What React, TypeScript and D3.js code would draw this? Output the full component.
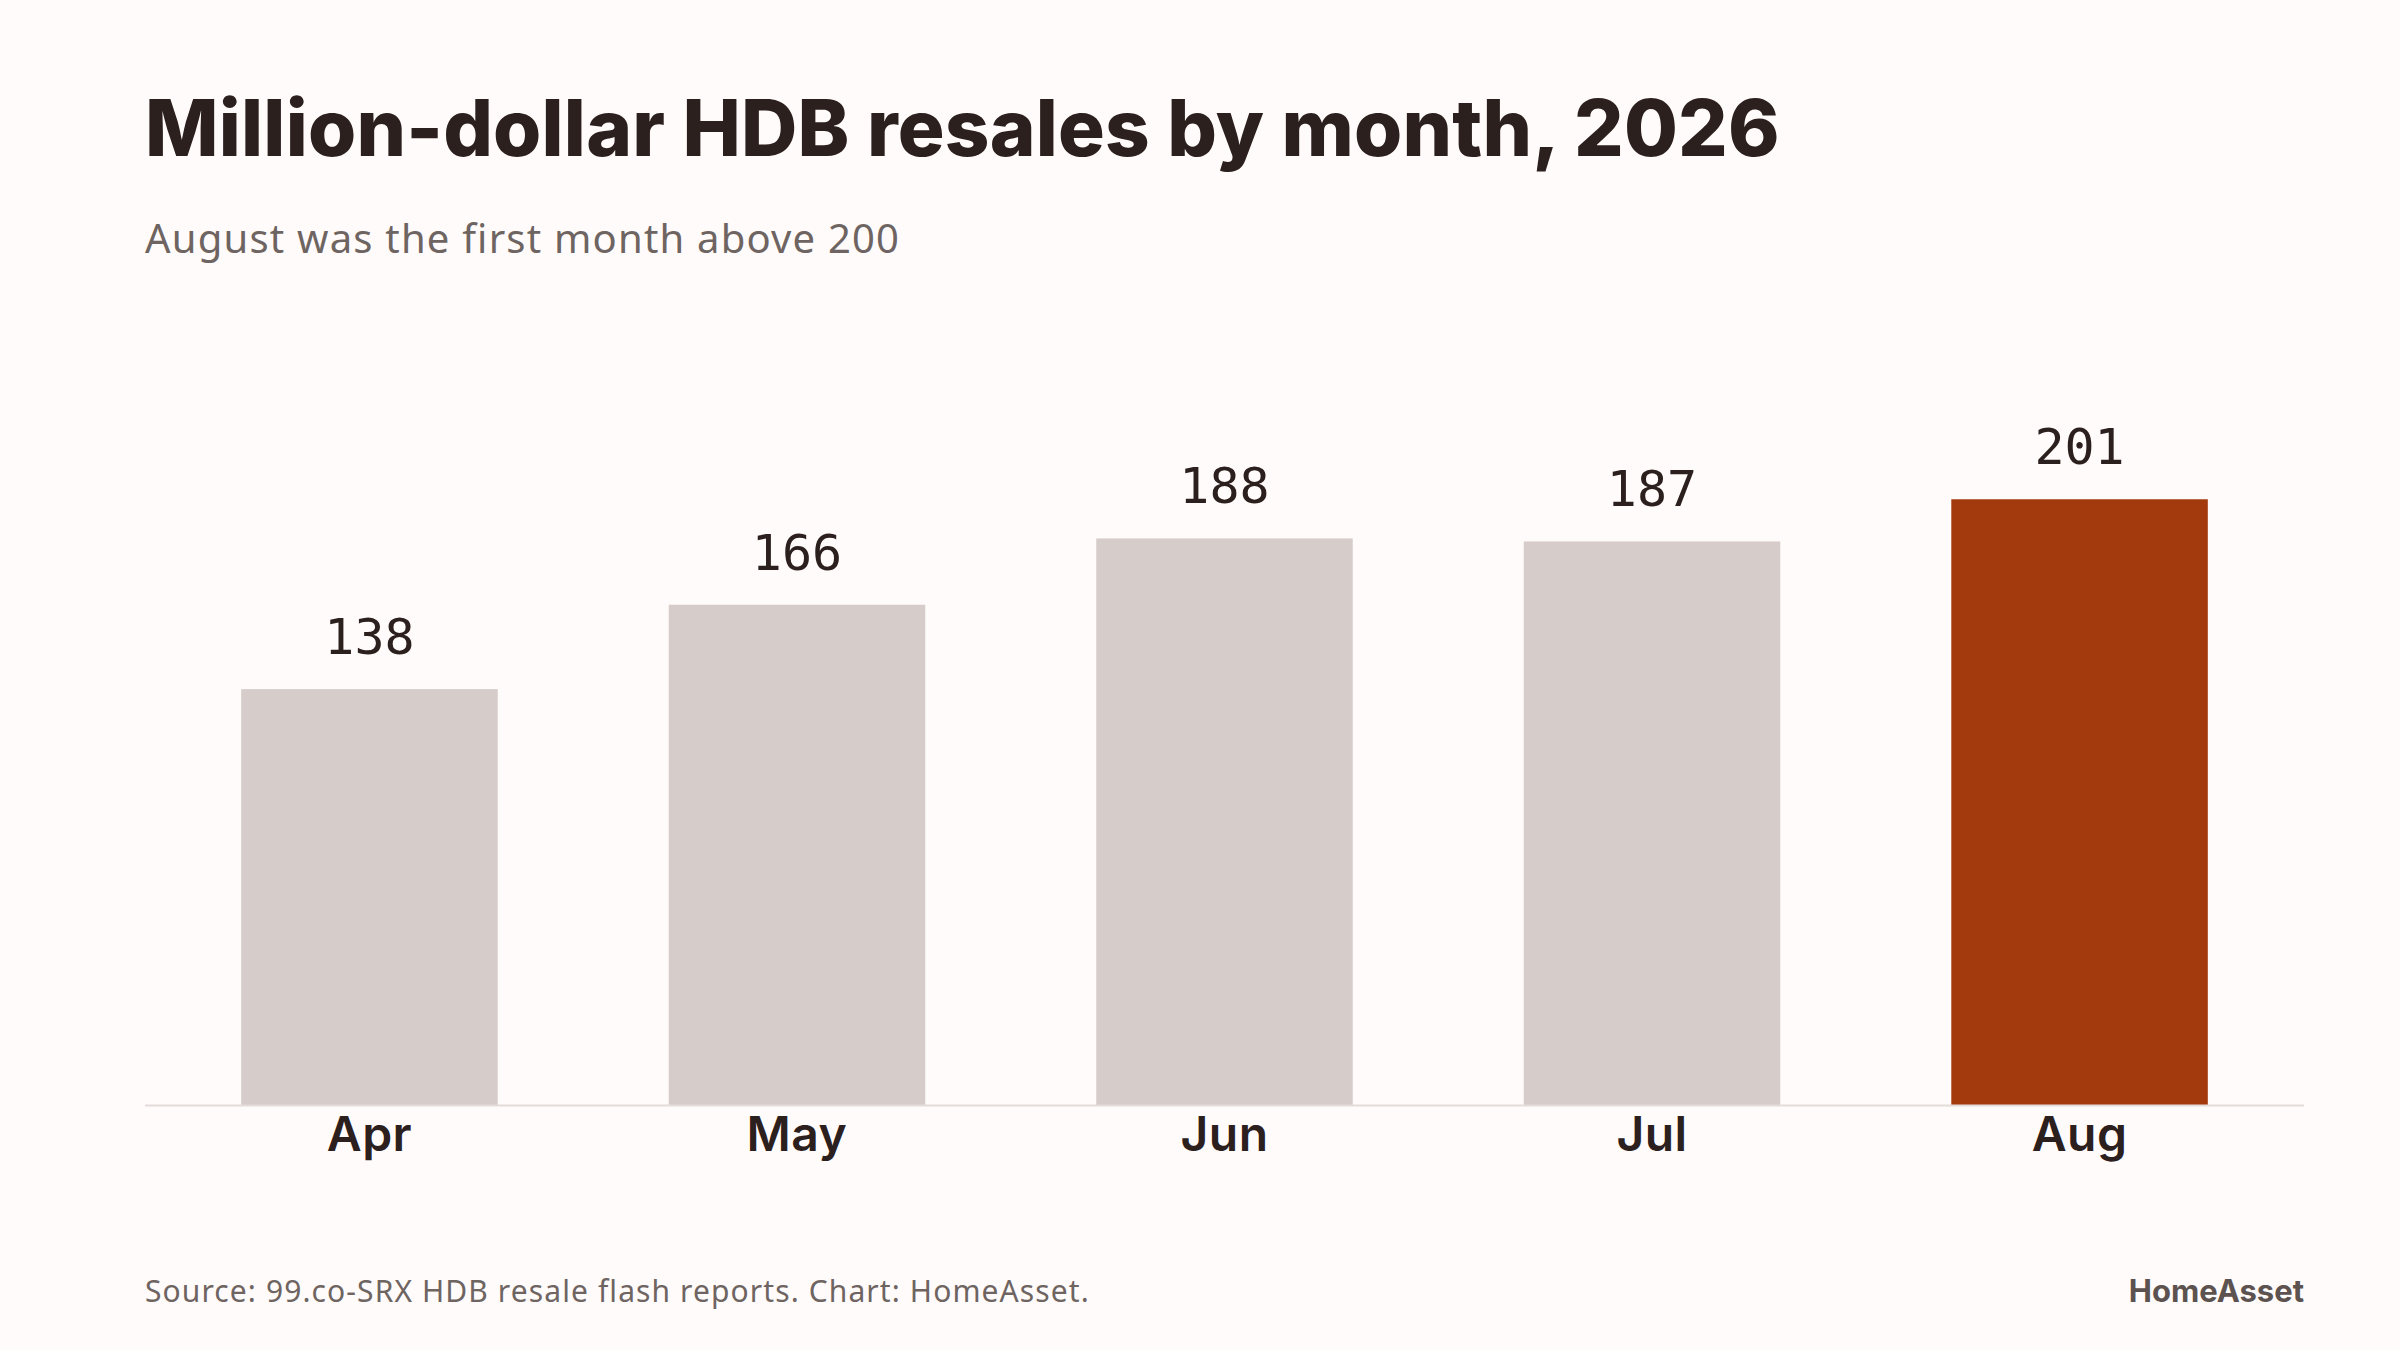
import React, { useEffect } from "react";
import * as d3 from "d3";

const months = ["Apr", "May", "Jun", "Jul", "Aug"];
const sales = [138, 166, 188, 187, 201];
const highlightMonth = "Aug";

const W = 2400;
const H = 1350;
const BG = "#fffbfa";
const INK = "#2b201d";
const MUTED = "#6e6461";

export default function App() {
  useEffect(() => {
    document.body.style.margin = "0";
    document.body.style.background = BG;
  }, []);

  const x = d3.scaleBand<string>().domain(months).range([145, 2304]).paddingInner(0.4).paddingOuter(0.225);
  const y = d3.scaleLinear().domain([0, 220]).range([1105, 442]);

  return (
    <svg width={W} height={H} viewBox={`0 0 ${W} ${H}`} style={{ display: "block", background: BG }}>
      <rect x={0} y={0} width={W} height={H} fill={BG} />
      <text x={145} y={156} fontFamily="Inter, 'Noto Sans', sans-serif" fontWeight={800} fontSize={78} letterSpacing={0.2} fill={INK}>
        Million-dollar HDB resales by month, 2026
      </text>
      <text x={145} y={253} fontFamily="'Noto Sans', Inter, sans-serif" fontWeight={400} fontSize={40} letterSpacing={1.2} fill={MUTED}>
        August was the first month above 200
      </text>
      {months.map((m, i) => (
        <g key={m}>
          <rect
            x={x(m)}
            y={y(sales[i])}
            width={x.bandwidth()}
            height={y(0) - y(sales[i])}
            fill={m === highlightMonth ? "#a33a0d" : "#d6cdcb"}
          />
          <text
            x={(x(m) as number) + x.bandwidth() / 2}
            y={y(sales[i]) - 35}
            textAnchor="middle"
            fontFamily="'DejaVu Sans Mono', 'Liberation Mono', monospace"
            fontSize={50}
            fill={INK}
          >
            {sales[i]}
          </text>
          <text
            x={(x(m) as number) + x.bandwidth() / 2}
            y={1151}
            textAnchor="middle"
            fontFamily="Inter, 'Noto Sans', sans-serif"
            fontWeight={600}
            fontSize={48}
            letterSpacing={0.5}
            fill={INK}
          >
            {m}
          </text>
        </g>
      ))}
      <line x1={145} x2={2304} y1={y(0) + 0.5} y2={y(0) + 0.5} stroke="#e3dcda" strokeWidth={2} />
      <text x={145} y={1302} fontFamily="'Noto Sans', Inter, sans-serif" fontSize={30} letterSpacing={1.1} fill={MUTED}>
        Source: 99.co-SRX HDB resale flash reports. Chart: HomeAsset.
      </text>
      <text x={2304} y={1302} textAnchor="end" fontFamily="Inter, 'Noto Sans', sans-serif" fontWeight={700} fontSize={31} fill="#5c524f">
        HomeAsset
      </text>
    </svg>
  );
}
